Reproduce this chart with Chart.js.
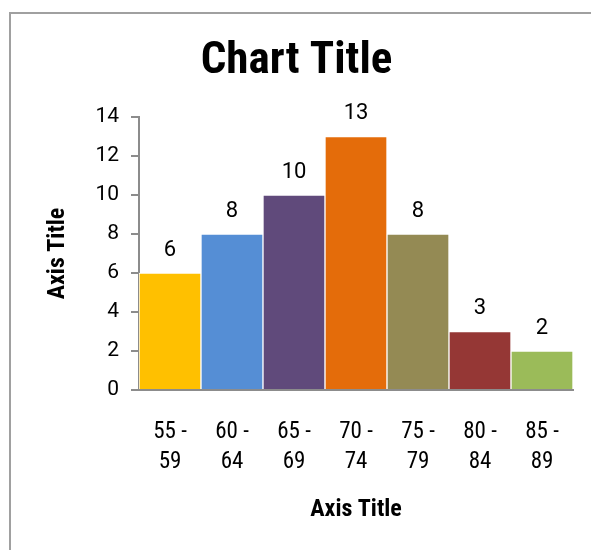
<!DOCTYPE html>
<html>
<head>
<meta charset="utf-8">
<script src="https://cdn.jsdelivr.net/npm/chart.js@4"></script>
<style>
  html, body { margin: 0; padding: 0; background: #fff; }
  #wrap { position: relative; width: 591px; height: 550px; }
  #frame { position: absolute; left: 9px; top: 12px; right: -5px; bottom: -5px;
           border-left: 2px solid #a0a0a0; border-top: 2px solid #a0a0a0; }
  canvas { position: absolute; left: 0; top: 0; }
</style>
</head>
<body>
<div id="wrap">
  <div id="frame"></div>
  <canvas id="ageChart" width="591" height="550"></canvas>
</div>
<script>
const labels = [
  ['55 -', '59'],
  ['60 -', '64'],
  ['65 -', '69'],
  ['70 -', '74'],
  ['75 -', '79'],
  ['80 -', '84'],
  ['85 -', '89'],
];
const counts = [6, 8, 10, 13, 8, 3, 2];
const barColors = ['#FFC000', '#558ED5', '#604A7B', '#E46C0A', '#948A54', '#953735', '#9BBB59'];

const NARROW = '"Roboto Condensed", "Liberation Sans Narrow", "DejaVu Sans Condensed", sans-serif';
const PLAIN = 'Roboto, "Noto Sans", sans-serif';
Chart.defaults.font.family = NARROW;
Chart.defaults.color = '#000';

// value labels above each bar
const valueLabels = {
  id: 'valueLabels',
  afterDatasetsDraw(chart) {
    const ctx = chart.ctx;
    ctx.save();
    ctx.font = '22px ' + PLAIN;
    ctx.fillStyle = '#000';
    ctx.textAlign = 'center';
    ctx.textBaseline = 'middle';
    chart.getDatasetMeta(0).data.forEach((bar, i) => {
      ctx.fillText(String(counts[i]), bar.x, bar.y - 23);
    });
    ctx.restore();
  }
};

const config = {
  type: 'bar',
  data: {
    labels: labels,
    datasets: [{
      data: counts,
      backgroundColor: barColors,
      borderColor: '#fff',
      borderWidth: 1,
      barPercentage: 1,
      categoryPercentage: 1
    }]
  },
  options: {
    responsive: false,
    animation: false,
    layout: { padding: { left: 20, right: 18, top: 0, bottom: 0 } },
    plugins: {
      legend: { display: false },
      tooltip: { enabled: false },
      title: {
        display: true,
        text: 'Chart Title',
        font: { size: 45, weight: 'bold' },
        color: '#000',
        padding: { top: 35, bottom: 28 }
      }
    },
    scales: {
      x: {
        grid: { display: false, drawTicks: false },
        border: { display: true, color: '#8c8c8c', width: 2 },
        ticks: { font: { size: 23, lineHeight: 1.3 }, color: '#000', padding: 27, maxRotation: 0 },
        title: { display: true, text: 'Axis Title', font: { size: 24, weight: 'bold' }, color: '#000', padding: { top: 0, bottom: 26 } },
        afterFit(scale) { scale.height = 160; }
      },
      y: {
        min: 0,
        max: 14,
        ticks: { stepSize: 2, font: { size: 21, family: PLAIN }, color: '#000', padding: 12 },
        grid: { drawOnChartArea: false, drawTicks: true, tickLength: 8, color: '#8c8c8c', lineWidth: 2 },
        border: { display: true, color: '#8c8c8c', width: 2 },
        title: { display: true, text: 'Axis Title', font: { size: 24, weight: 'bold' }, color: '#000', padding: { top: 24, bottom: 0 } },
        afterFit(scale) { scale.width = 119; }
      }
    }
  },
  plugins: [valueLabels]
};

const ageChart = new Chart(document.getElementById('ageChart'), config);
</script>
</body>
</html>
